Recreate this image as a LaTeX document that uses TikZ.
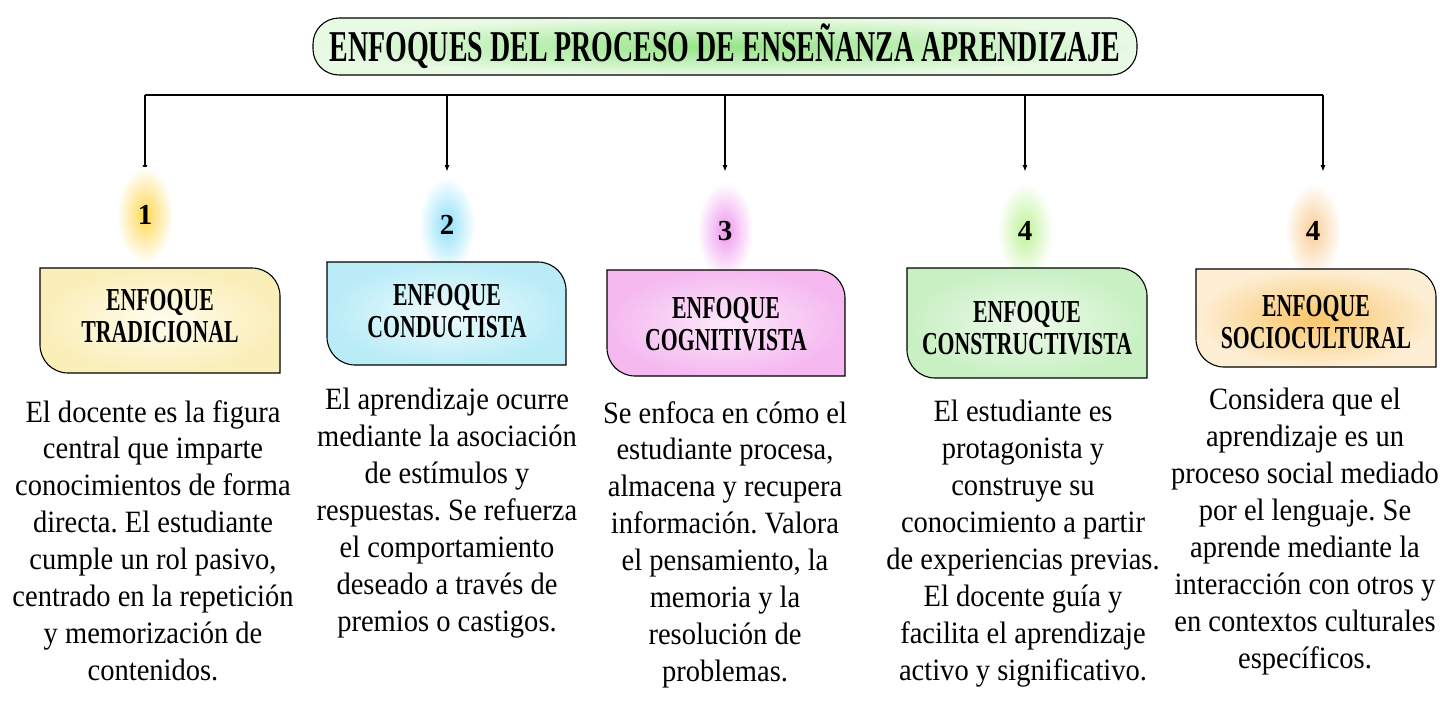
\documentclass[tikz,border=0pt]{standalone}
\usepackage{fontspec}
\setmainfont{Liberation Serif}
\newfontfamily\headfont[FakeStretch=0.635]{Liberation Serif}
\newfontfamily\labelfont[FakeStretch=0.68]{Liberation Serif}
\newfontfamily\bodyfont[FakeStretch=0.92]{Liberation Serif}
\usetikzlibrary{arrows.meta}
\frenchspacing

\definecolor{titlein}{RGB}{150,228,135}
\definecolor{titleout}{RGB}{232,250,228}
\definecolor{tradin}{RGB}{255,253,238}
\definecolor{tradout}{RGB}{250,238,185}
\definecolor{condin}{RGB}{240,251,253}
\definecolor{condout}{RGB}{185,236,247}
\definecolor{cognin}{RGB}{252,232,250}
\definecolor{cognout}{RGB}{245,185,240}
\definecolor{consin}{RGB}{238,250,235}
\definecolor{consout}{RGB}{200,240,195}
\definecolor{sociin}{RGB}{250,198,105}
\definecolor{sociout}{RGB}{253,238,212}
\definecolor{glowone}{RGB}{255,215,80}
\definecolor{glowtwo}{RGB}{140,225,250}
\definecolor{glowthree}{RGB}{238,150,238}
\definecolor{glowfour}{RGB}{190,242,150}
\definecolor{glowfive}{RGB}{250,205,150}

\begin{document}
\begin{tikzpicture}[x=1pt,y=-1pt,
  bus/.style={line width=2.4pt},
  drop/.style={line width=1.4pt,-{Latex[length=7pt,width=5pt]}},
  titlebox/.style={draw,line width=1.1pt,rounded corners=26,minimum width=824,minimum height=57,inner color=titlein,outer color=titleout,font=\headfont\bfseries\fontsize{44}{44}\selectfont},
  headtxt/.style={font=\labelfont\bfseries\fontsize{32}{32}\selectfont,align=center,inner sep=0pt},
  bodytxt/.style={font=\bodyfont\fontsize{31}{36.9}\selectfont,align=center,inner sep=0pt,anchor=north},
  numtxt/.style={font=\bfseries\fontsize{29}{29}\selectfont,inner sep=0pt}]
\useasboundingbox (0,0) rectangle (1443,713);

\node[titlebox] (title) at (725,46.5) {ENFOQUES DEL PROCESO DE ENSEÑANZA APRENDIZAJE};

\foreach \i/\x in {1/145,2/447,3/725,4/1025,5/1323} {
  \coordinate (b\i) at (\x,95);
  \coordinate (t\i) at (\x,172);
}
\draw[bus] (b1) -- (b5);
\foreach \i in {1,...,5}
  \draw[drop] (b\i) -- (t\i);

\foreach \x/\y/\c in {145/215/glowone,447/225/glowtwo,725/231/glowthree,1025/231/glowfour,1313/231/glowfive}
  \shade[inner color=\c,outer color=white] (\x,\y) ellipse (28 and 48);
\node[numtxt] (n1) at (145,215) {1};
\node[numtxt] (n2) at (447,225) {2};
\node[numtxt] (n3) at (725,231) {3};
\node[numtxt] (n4) at (1025,231) {4};
\node[numtxt] (n5) at (1313,231) {4};

\foreach \xa/\ya/\xb/\yb/\cin/\cout in {40/268/280/373/tradin/tradout,327/262/566/365/condin/condout,607/270/845/376/cognin/cognout,907/268/1147/378/consin/consout,1196/269/1436/367/sociin/sociout}
  \shadedraw[line width=1.1pt,inner color=\cin,outer color=\cout] (\xa,\ya) -- (\xb-28,\ya) arc[start angle=-90,end angle=0,radius=28] -- (\xb,\yb) -- (\xa+28,\yb) arc[start angle=90,end angle=180,radius=28] -- cycle;

\node[headtxt] (h1) at (160,316) {ENFOQUE\\TRADICIONAL};
\node[headtxt] (h2) at (447,311) {ENFOQUE\\CONDUCTISTA};
\node[headtxt] (h3) at (726,324) {ENFOQUE\\COGNITIVISTA};
\node[headtxt] (h4) at (1027,328) {ENFOQUE\\CONSTRUCTIVISTA};
\node[headtxt] (h5) at (1316,322) {ENFOQUE\\SOCIOCULTURAL};

\node[bodytxt] (d1) at (153,400) {El docente es la figura\\central que imparte\\conocimientos de forma\\directa. El estudiante\\cumple un rol pasivo,\\centrado en la repetición\\y memorización de\\contenidos.};
\node[bodytxt] (d2) at (447,388) {El aprendizaje ocurre\\mediante la asociación\\de estímulos y\\respuestas. Se refuerza\\el comportamiento\\deseado a través de\\premios o castigos.};
\node[bodytxt] (d3) at (725,401) {Se enfoca en cómo el\\estudiante procesa,\\almacena y recupera\\información. Valora\\el pensamiento, la\\memoria y la\\resolución de\\problemas.};
\node[bodytxt] (d4) at (1023,400) {El estudiante es\\protagonista y\\construye su\\conocimiento a partir\\de experiencias previas.\\El docente guía y\\facilita el aprendizaje\\activo y significativo.};
\node[bodytxt] (d5) at (1305,388) {Considera que el\\aprendizaje es un\\proceso social mediado\\por el lenguaje. Se\\aprende mediante la\\interacción con otros y\\en contextos culturales\\específicos.};
\end{tikzpicture}
\end{document}
